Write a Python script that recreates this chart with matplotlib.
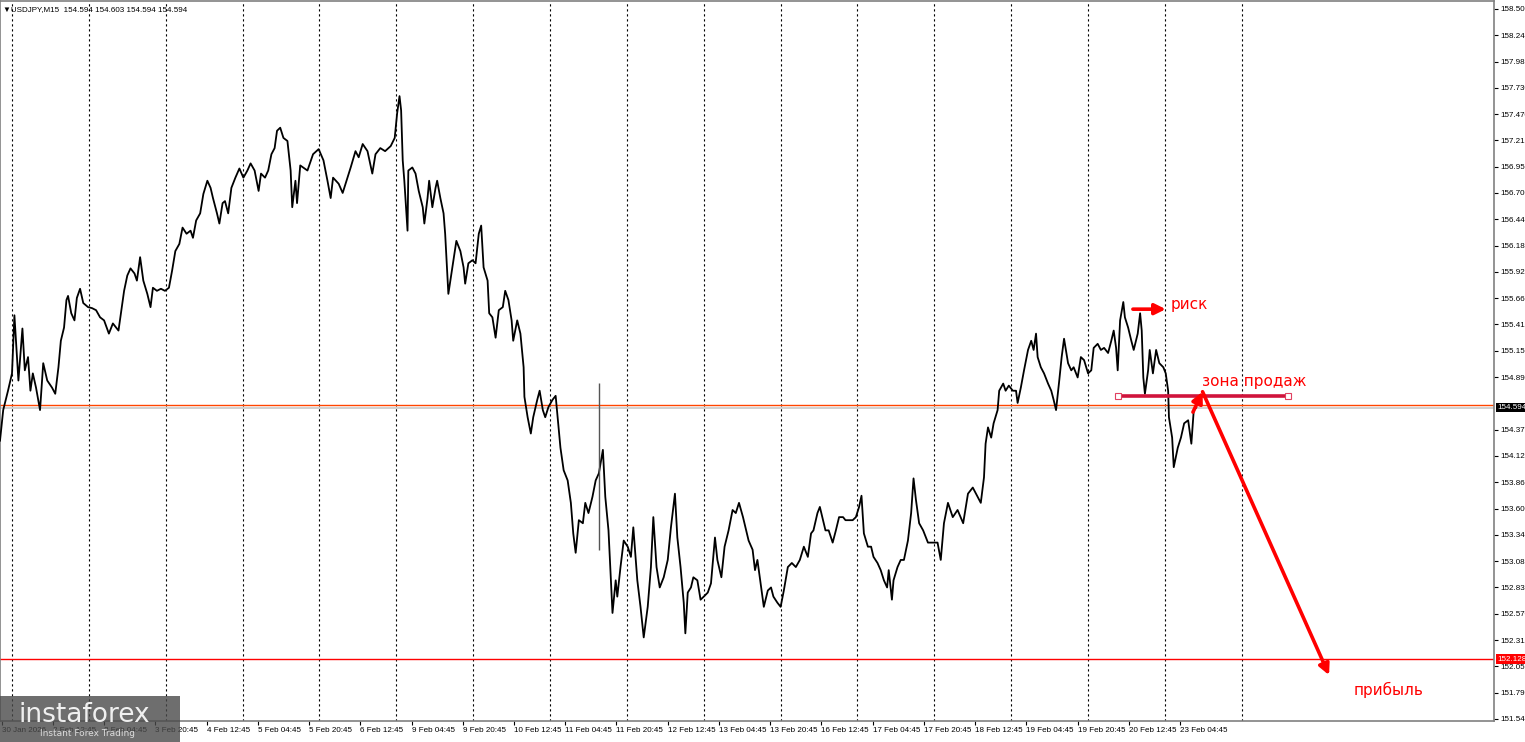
import numpy as np
import matplotlib
matplotlib.use("Agg")
import matplotlib.pyplot as plt
from matplotlib.patches import Rectangle
from matplotlib.transforms import blended_transform_factory

# USDJPY M15, цена закрытия по барам (номер бара от левого края графика)
bars = [0, 4, 10, 15, 18, 20, 23, 28, 31, 35, 38, 41, 45, 50, 54, 59, 65, 69, 73, 76,
        80, 83, 85, 89, 93, 96, 100, 104, 110, 115, 120, 125, 130, 136, 141, 148, 151, 155, 159, 163,
        168, 171, 175, 179, 184, 188, 191, 196, 201, 206, 211, 215, 219, 224, 228, 233, 238, 241, 245, 250,
        254, 259, 263, 266, 271, 274, 278, 281, 285, 289, 294, 299, 304, 309, 313, 318, 323, 326, 331, 335,
        339, 343, 346, 350, 354, 359, 363, 365, 369, 371, 375, 384, 391, 398, 404, 409, 413, 416, 423, 428,
        434, 438, 444, 448, 453, 459, 465, 469, 475, 481, 488, 493, 496, 499, 501, 503, 505, 509, 510, 515,
        519, 523, 528, 530, 534, 536, 540, 544, 546, 550, 554, 556, 560, 565, 570, 575, 579, 581, 585, 590,
        594, 598, 601, 604, 609, 611, 615, 619, 623, 628, 631, 635, 639, 641, 646, 650, 654, 655, 659, 663,
        666, 671, 674, 678, 681, 685, 690, 694, 696, 700, 704, 709, 713, 716, 719, 723, 728, 731, 735, 740,
        744, 748, 753, 756, 760, 763, 765, 769, 771, 775, 779, 784, 788, 791, 796, 800, 804, 809, 813, 816,
        820, 824, 829, 834, 838, 843, 846, 850, 854, 856, 859, 863, 866, 871, 875, 879, 884, 888, 893, 896,
        901, 905, 910, 915, 919, 923, 928, 931, 935, 940, 943, 946, 950, 954, 959, 963, 966, 971, 975, 979,
        984, 989, 994, 999, 1004, 1009, 1013, 1016, 1021, 1024, 1028, 1031, 1035, 1040, 1044, 1048, 1053, 1056, 1060, 1065,
        1069, 1073, 1076, 1079, 1084, 1088, 1091, 1096, 1100, 1104, 1108, 1110, 1114, 1116, 1121, 1125, 1129, 1134, 1138, 1141,
        1144, 1148, 1153, 1159, 1165, 1171, 1175, 1179, 1184, 1190, 1196, 1203, 1209, 1215, 1221, 1225, 1229, 1231, 1234, 1238,
        1241, 1246, 1248, 1253, 1256, 1260, 1265, 1269, 1271, 1275, 1279, 1284, 1288, 1291, 1294, 1296, 1300, 1304, 1309, 1313,
        1316, 1319, 1323, 1326, 1329, 1334, 1338, 1341, 1346, 1350, 1354, 1359, 1363, 1366, 1371, 1375, 1379, 1384, 1388, 1391,
        1394, 1396, 1399, 1403, 1405, 1409, 1413, 1416, 1421, 1424, 1426, 1428, 1430, 1434, 1436, 1440, 1444, 1448, 1453, 1456,
        1459, 1460, 1464, 1466, 1471, 1475, 1479, 1484, 1488, 1491, 1494]
prices = [154.27, 154.57, 154.76, 154.93, 155.50, 155.25, 154.86, 155.37, 154.96, 155.09, 154.76, 154.93, 154.79, 154.57, 155.03, 154.86, 154.79, 154.73, 154.99, 155.25,
          155.38, 155.65, 155.69, 155.52, 155.45, 155.67, 155.76, 155.62, 155.58, 155.57, 155.55, 155.48, 155.45, 155.32, 155.42, 155.35, 155.52, 155.74, 155.89, 155.96,
          155.91, 155.84, 156.07, 155.84, 155.71, 155.58, 155.77, 155.74, 155.76, 155.74, 155.77, 155.94, 156.13, 156.20, 156.36, 156.30, 156.33, 156.26, 156.43, 156.50,
          156.69, 156.82, 156.75, 156.65, 156.50, 156.40, 156.60, 156.62, 156.50, 156.75, 156.85, 156.94, 156.85, 156.92, 156.99, 156.92, 156.72, 156.89, 156.85, 156.92,
          157.08, 157.14, 157.31, 157.34, 157.24, 157.21, 156.92, 156.56, 156.82, 156.60, 156.97, 156.92, 157.08, 157.13, 157.02, 156.82, 156.65, 156.85, 156.79, 156.70,
          156.85, 156.95, 157.11, 157.05, 157.18, 157.11, 156.89, 157.08, 157.14, 157.11, 157.16, 157.24, 157.48, 157.65, 157.51, 157.02, 156.82, 156.33, 156.92, 156.95,
          156.89, 156.72, 156.56, 156.40, 156.65, 156.82, 156.56, 156.75, 156.82, 156.65, 156.50, 156.30, 155.71, 155.97, 156.23, 156.13, 155.97, 155.81, 156.01, 156.04,
          156.01, 156.30, 156.38, 155.97, 155.84, 155.52, 155.48, 155.28, 155.55, 155.58, 155.74, 155.65, 155.45, 155.25, 155.45, 155.32, 154.99, 154.70, 154.50, 154.34,
          154.50, 154.67, 154.76, 154.57, 154.50, 154.60, 154.67, 154.71, 154.54, 154.20, 153.98, 153.88, 153.66, 153.36, 153.17, 153.49, 153.46, 153.66, 153.56, 153.72,
          153.88, 153.95, 154.18, 153.72, 153.39, 152.90, 152.58, 152.90, 152.74, 153.03, 153.29, 153.23, 153.13, 153.42, 152.90, 152.64, 152.34, 152.64, 153.03, 153.52,
          153.03, 152.83, 152.93, 153.10, 153.42, 153.75, 153.32, 153.03, 152.68, 152.38, 152.78, 152.83, 152.93, 152.90, 152.71, 152.74, 152.78, 152.87, 153.32, 153.10,
          152.93, 153.23, 153.39, 153.59, 153.56, 153.66, 153.52, 153.42, 153.29, 153.20, 153.00, 153.10, 152.87, 152.64, 152.80, 152.83, 152.74, 152.68, 152.64, 152.80,
          153.03, 153.07, 153.03, 153.10, 153.23, 153.13, 153.36, 153.39, 153.56, 153.62, 153.49, 153.39, 153.39, 153.27, 153.39, 153.52, 153.52, 153.49, 153.49, 153.49,
          153.52, 153.62, 153.73, 153.36, 153.23, 153.23, 153.13, 153.07, 153.00, 152.90, 152.83, 153.00, 152.71, 152.90, 153.03, 153.10, 153.10, 153.29, 153.56, 153.90,
          153.69, 153.46, 153.39, 153.27, 153.27, 153.27, 153.10, 153.46, 153.66, 153.52, 153.59, 153.46, 153.75, 153.81, 153.72, 153.66, 153.91, 154.24, 154.40, 154.30,
          154.44, 154.57, 154.76, 154.83, 154.76, 154.81, 154.76, 154.76, 154.64, 154.79, 154.96, 155.16, 155.25, 155.16, 155.32, 155.09, 154.99, 154.93, 154.83, 154.76,
          154.67, 154.57, 154.86, 155.09, 155.27, 155.03, 154.96, 154.99, 154.89, 155.09, 155.06, 154.93, 154.96, 155.18, 155.22, 155.16, 155.18, 155.13, 155.25, 155.35,
          155.18, 154.96, 155.45, 155.63, 155.48, 155.38, 155.25, 155.16, 155.32, 155.52, 155.35, 154.89, 154.73, 154.96, 155.16, 154.93, 155.16, 155.03, 154.99, 154.93,
          154.76, 154.50, 154.30, 154.01, 154.20, 154.30, 154.44, 154.47, 154.24, 154.57, 154.594]

# отдельная длинная тень свечи 11 Feb
spike_bar = 748
spike_high = 154.84
spike_low = 153.20

bid_price = 154.594
ask_price = 154.622
target_price = 152.128
sell_zone_price = 154.71
sell_zone_bars = (1396, 1609)
risk_price = 155.56
risk_bars = (1415, 1456)
entry_start = (1490, 154.55)
entry_top = (1502, 154.75)
target_end = (1660, 151.97)

price_ticks = [158.505, 158.245, 157.985, 157.730, 157.470, 157.215, 156.955, 156.700, 156.440,
               156.180, 155.925, 155.665, 155.410, 155.150, 154.890, 154.379, 154.120, 153.860,
               153.600, 153.345, 153.085, 152.830, 152.570, 152.310, 152.055, 151.795, 151.540]
time_labels = ["30 Jan 2026", "2 Feb 12:45", "3 Feb 04:45", "3 Feb 20:45", "4 Feb 12:45",
               "5 Feb 04:45", "5 Feb 20:45", "6 Feb 12:45", "9 Feb 04:45", "9 Feb 20:45",
               "10 Feb 12:45", "11 Feb 04:45", "11 Feb 20:45", "12 Feb 12:45", "13 Feb 04:45",
               "13 Feb 20:45", "16 Feb 12:45", "17 Feb 04:45", "17 Feb 20:45", "18 Feb 12:45",
               "19 Feb 04:45", "19 Feb 20:45", "20 Feb 12:45", "23 Feb 04:45"]
time_ticks = 2 + 64 * np.arange(len(time_labels))
day_lines = 15 + 96 * np.arange(17)

fig = plt.figure(figsize=(15.25, 7.42), dpi=100)
ax = fig.add_axes([0.0, 21 / 742, 1494 / 1525, 720 / 742])
ax.set_xlim(0, 1866)
ax.set_ylim(151.52, 158.583)

for d in day_lines:
    ax.axvline(d, color='black', lw=0.8, linestyle=(0, (2, 2.5)), zorder=1)

ax.axhline(bid_price, color='#c8c8c8', lw=1.2, zorder=2)
ax.axhline(ask_price, color='#ff4500', lw=1.0, zorder=2)
ax.axhline(target_price, color='#ff0000', lw=1.0, zorder=2)

ax.plot(bars, prices, color='black', lw=1.3, zorder=3)
ax.vlines(spike_bar, spike_low, spike_high, color='#555555', lw=1, zorder=3)

# зона продаж
ax.plot(sell_zone_bars, [sell_zone_price] * 2, color='#d0143c', lw=2.6, zorder=4,
        solid_capstyle='butt')
ax.plot(sell_zone_bars, [sell_zone_price] * 2, ls='none', marker='s', ms=4,
        mfc='white', mec='#e04060', mew=0.8, zorder=5)

arrow = dict(arrowstyle='-|>', color='#ff0000', lw=2.6, mutation_scale=16, shrinkA=0, shrinkB=0)
ax.annotate('', xy=(risk_bars[1], risk_price), xytext=(risk_bars[0], risk_price),
            arrowprops=arrow, zorder=6)
ax.annotate('', xy=entry_top, xytext=entry_start, arrowprops=arrow, zorder=6)
ax.annotate('', xy=target_end, xytext=entry_top, arrowprops=arrow, zorder=6)

ax.text(1462, 155.61, 'риск', color='#ff0000', fontsize=11, va='center', ha='left')
ax.text(1501, 154.85, 'зона продаж', color='#ff0000', fontsize=11, va='center', ha='left')
ax.text(1691, 151.82, 'прибыль', color='#ff0000', fontsize=11, va='center', ha='left')

small = dict(family=['Liberation Sans', 'DejaVu Sans'], size=5.8)
ax.text(0.002, 0.988, '\u25bcUSDJPY,M15  154.594 154.603 154.594 154.594',
        transform=ax.transAxes, va='center', ha='left', **small)

# оси
ax.yaxis.tick_right()
ax.set_yticks(price_ticks)
ax.set_yticklabels([f'{p:.3f}' for p in price_ticks], **small)
ax.set_xticks(time_ticks)
ax.set_xticklabels(time_labels, ha='left', **small)
ax.tick_params(axis='y', length=3, width=0.8, pad=1.5, direction='out')
ax.tick_params(axis='x', length=3, width=0.8, pad=1.5, direction='out')
for spine in ax.spines.values():
    spine.set_color('#808080')
    spine.set_linewidth(1.2)

trans = blended_transform_factory(ax.transAxes, ax.transData)
ax.text(1.002, bid_price, f'{bid_price:.3f}', transform=trans, color='white',
        va='center', ha='left', bbox=dict(boxstyle='square,pad=0.15', fc='black', ec='none'), **small)
ax.text(1.002, target_price, f'{target_price:.3f}', transform=trans, color='white',
        va='center', ha='left', bbox=dict(boxstyle='square,pad=0.15', fc='#ff0000', ec='none'), **small)

# логотип
fig.patches.append(Rectangle((0, 0), 180 / 1525, 46 / 742, transform=fig.transFigure,
                             fc='#4a4a4a', ec='none', alpha=0.8, zorder=10))
fig.text(0.012, 0.037, 'instaforex', color='white', fontsize=19, va='center', ha='left',
         alpha=0.9, zorder=11)
fig.text(0.026, 0.012, 'Instant Forex Trading', color='#e8e8e8', fontsize=6.5, va='center',
         ha='left', alpha=0.9, zorder=11)

fig.savefig('out.png', dpi=100)
